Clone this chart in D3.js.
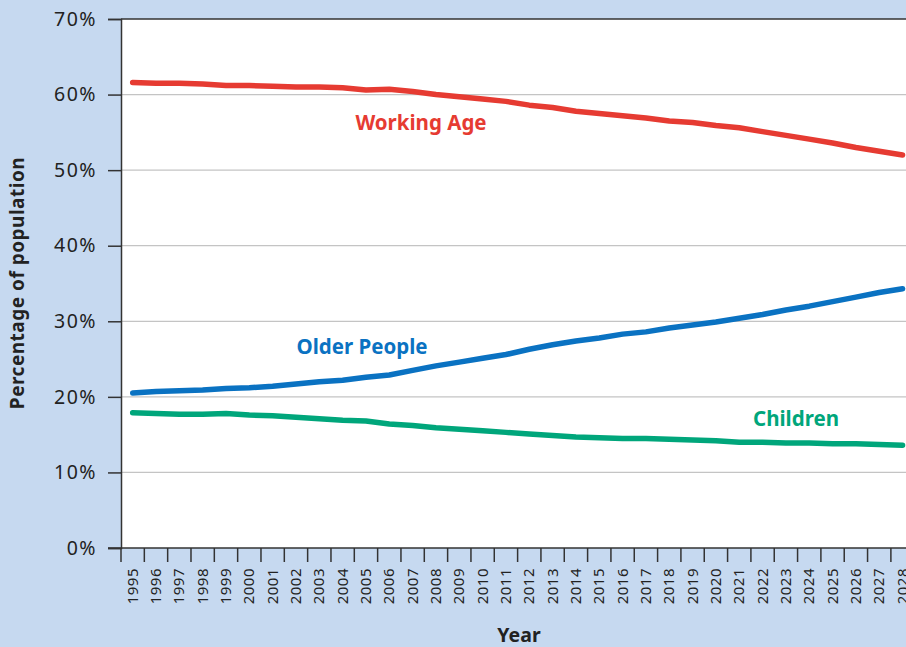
<!DOCTYPE html>
<html>
<head>
<meta charset="utf-8">
<script src="https://cdn.jsdelivr.net/npm/d3@7"></script>
<style>
  body { margin: 0; background: #c6d9f0; overflow: hidden; }
  svg { display: block; font-family: "Noto Sans", "Open Sans", sans-serif; }
</style>
</head>
<body>
<div id="chart"></div>
<script>
var years = d3.range(1995, 2029);

var workingAge = [61.6, 61.5, 61.5, 61.4, 61.2, 61.2, 61.1, 61.0, 61.0, 60.9,
  60.6, 60.7, 60.4, 60.0, 59.7, 59.4, 59.1, 58.6, 58.3, 57.8,
  57.5, 57.2, 56.9, 56.5, 56.3, 55.9, 55.6, 55.1, 54.6, 54.1,
  53.6, 53.0, 52.5, 52.0];

var olderPeople = [20.5, 20.7, 20.8, 20.9, 21.1, 21.2, 21.4, 21.7, 22.0, 22.2,
  22.6, 22.9, 23.5, 24.1, 24.6, 25.1, 25.6, 26.3, 26.9, 27.4,
  27.8, 28.3, 28.6, 29.1, 29.5, 29.9, 30.4, 30.9, 31.5, 32.0,
  32.6, 33.2, 33.8, 34.3];

var children = [17.9, 17.8, 17.7, 17.7, 17.8, 17.6, 17.5, 17.3, 17.1, 16.9,
  16.8, 16.4, 16.2, 15.9, 15.7, 15.5, 15.3, 15.1, 14.9, 14.7,
  14.6, 14.5, 14.5, 14.4, 14.3, 14.2, 14.0, 14.0, 13.9, 13.9,
  13.8, 13.8, 13.7, 13.6];

var yTicks = [0, 10, 20, 30, 40, 50, 60, 70];

var series = [
  {name: "Working Age", values: workingAge, color: "#e63b32", label: [421, 130]},
  {name: "Older People", values: olderPeople, color: "#0a72c2", label: [362, 354]},
  {name: "Children", values: children, color: "#00a67b", label: [796, 426]}
];

(function () {
  var width = 906, height = 647;
  var plotLeft = 121, plotTop = 19, plotBottom = 548;
  var bandW = 23.33;

  var svg = d3.select("#chart").append("svg")
    .attr("width", width)
    .attr("height", height);

  var x = d3.scaleBand()
    .domain(years)
    .range([plotLeft, plotLeft + bandW * years.length]);

  var y = d3.scaleLinear()
    .domain([0, 70])
    .range([plotBottom, plotTop]);

  // plot background
  svg.append("rect")
    .attr("x", plotLeft).attr("y", plotTop)
    .attr("width", x.range()[1] - plotLeft).attr("height", plotBottom - plotTop)
    .attr("fill", "#fff");

  // gridlines
  svg.append("g")
    .selectAll("line")
    .data(yTicks.filter(d => d > 0 && d < 70))
    .enter().append("line")
    .attr("x1", plotLeft).attr("x2", width)
    .attr("y1", d => y(d)).attr("y2", d => y(d))
    .attr("stroke", "#c4c4c4")
    .attr("stroke-width", 1.2);

  // top border
  svg.append("line")
    .attr("x1", plotLeft).attr("x2", width)
    .attr("y1", plotTop).attr("y2", plotTop)
    .attr("stroke", "#333").attr("stroke-width", 1.5);

  // y axis
  var yAxis = svg.append("g")
    .attr("transform", "translate(" + plotLeft + ",0)")
    .call(d3.axisLeft(y).tickValues(yTicks).tickSize(13).tickPadding(11).tickFormat(d => d + "%"))
    .attr("font-family", null);
  yAxis.select(".domain").attr("stroke", "#333").attr("stroke-width", 1.5);
  yAxis.selectAll(".tick line").attr("stroke", "#333").attr("stroke-width", 1.5);
  yAxis.selectAll("text").attr("font-size", 19.5).attr("letter-spacing", 1.5).attr("fill", "#222");

  // x axis
  var xAxis = svg.append("g")
    .attr("transform", "translate(0," + plotBottom + ")");
  xAxis.append("line")
    .attr("x1", plotLeft - 13).attr("x2", width)
    .attr("stroke", "#333").attr("stroke-width", 1.5);
  xAxis.selectAll(".xt")
    .data(years)
    .enter().append("line")
    .attr("x1", d => x(d)).attr("x2", d => x(d))
    .attr("y1", 0).attr("y2", 14)
    .attr("stroke", "#333").attr("stroke-width", 1.5);
  xAxis.selectAll(".xl")
    .data(years)
    .enter().append("text")
    .attr("transform", d => "translate(" + (x(d) + x.bandwidth() / 2 + 5) + ",20) rotate(-90)")
    .attr("text-anchor", "end")
    .attr("font-size", 15)
    .attr("letter-spacing", 0.5)
    .attr("fill", "#222")
    .text(d => d);

  // lines
  var line = d3.line()
    .x((d, i) => x(years[i]) + x.bandwidth() / 2)
    .y(d => y(d));

  series.forEach(function (s) {
    svg.append("path")
      .datum(s.values)
      .attr("fill", "none")
      .attr("stroke", s.color)
      .attr("stroke-width", 5.5)
      .attr("stroke-linecap", "round")
      .attr("stroke-linejoin", "round")
      .attr("d", line);

    svg.append("text")
      .attr("x", s.label[0]).attr("y", s.label[1])
      .attr("text-anchor", "middle")
      .attr("font-size", 20.5)
      .attr("font-weight", "bold")
      .attr("fill", s.color)
      .text(s.name);
  });

  // axis titles
  svg.append("text")
    .attr("transform", "translate(24,283) rotate(-90)")
    .attr("text-anchor", "middle")
    .attr("font-size", 19)
    .attr("font-weight", "bold")
    .attr("letter-spacing", 0.5)
    .attr("fill", "#222")
    .text("Percentage of population");

  svg.append("text")
    .attr("x", 519).attr("y", 642)
    .attr("text-anchor", "middle")
    .attr("font-size", 19.5)
    .attr("font-weight", "bold")
    .attr("fill", "#222")
    .text("Year");
})();
</script>
</body>
</html>
